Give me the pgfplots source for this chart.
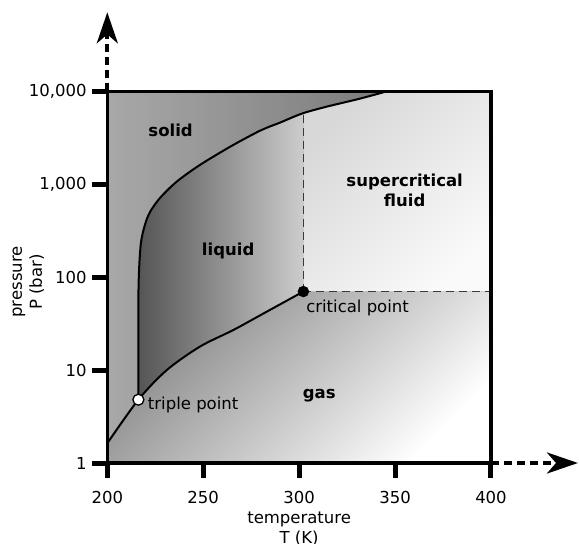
\documentclass[border=0pt]{standalone}
\usepackage{pgfplots}
\pgfplotsset{compat=1.18}
\usepackage{fontspec}
\setmainfont{DejaVu Sans}
\usetikzlibrary{arrows.meta}

\definecolor{solidL}{HTML}{A8A8A8}
\definecolor{solidR}{HTML}{6A6A6A}
\definecolor{liqL}{HTML}{555555}
\definecolor{liqR}{HTML}{CCCCCC}
\definecolor{scfT}{HTML}{D8D8D8}
\definecolor{scfB}{HTML}{FAFAFA}
\definecolor{gasT}{HTML}{858585}
\definecolor{gasB}{HTML}{FFFFFF}
\definecolor{dashc}{HTML}{3A3A3A}

\begin{document}
\fontsize{16.5}{20}\selectfont
\begin{tikzpicture}
\begin{axis}[name=ax, scale only axis, width=383.7pt, height=371.7pt,
  ymode=log, xmin=200, xmax=400, ymin=1, ymax=10000,
  xtick={200,250,300,350,400}, ytick={1,10,100,1000,10000},
  yticklabels={1,10,100,{1,000},{10,000}},
  xminorticks=false, yminorticks=false,
  tick align=outside, major tick length=15pt, tick pos=left,
  tick style={black, line width=5pt},
  axis line style={line width=3.5pt},
  axis on top,
  /pgf/number format/assume math mode=true,
  /pgf/number format/1000 sep={},
  xticklabel style={yshift=-8pt},
  xlabel={temperature\\T (K)},
  xlabel style={align=center, at={(axis description cs:0.5,0)}, anchor=north, yshift=-43pt},
  ylabel={pressure\\P (bar)},
  ylabel style={align=center, at={(axis description cs:-0.150,0.487)}, anchor=south},
]
% solid (background)
\addplot[draw=none, left color=solidL, right color=solidR]
  coordinates {(200,1) (400,1) (400,10000) (200,10000)} -- cycle;
% liquid
\addplot[draw=none, left color=liqL, right color=liqR]
  coordinates {(216.2,4.8) (216.2,16) (216.3,82) (217.4,222) (219.6,365) (222.3,504)
  (227.5,713) (236.2,1067) (248.3,1614) (265,2600) (280,3800) (290,4600) (297,5300)
  (302.2,5820) (302.2,70) (283.1,42.5) (265.7,27) (248.3,17.9) (231,10)} -- cycle;
% supercritical fluid
\addplot[draw=none, top color=scfT, bottom color=scfB, shading angle=45]
  coordinates {(302.2,70) (302.2,5820) (303,5900) (314.4,6840) (331.7,8340)
  (345.8,10000) (400,10000) (400,70)} -- cycle;
% gas
\addplot[draw=none, top color=gasT, bottom color=gasB, shading angle=45]
  coordinates {(200,1) (200,1.63) (216.2,4.8) (231,10) (248.3,17.9) (265.7,27)
  (283.1,42.5) (302.2,70) (400,70) (400,1)} -- cycle;
% dashed boundaries of the supercritical region
\addplot[dashc, line width=1.3pt, dash pattern=on 8pt off 5pt]
  coordinates {(302.2,70) (302.2,5820)};
\addplot[dashc, line width=1.3pt, dash pattern=on 8pt off 5pt]
  coordinates {(302.2,70) (400,70)};
% melting curve
\addplot[black, line width=2pt, smooth]
  coordinates {(216.2,4.8) (216.2,16) (216.3,82) (217.4,222) (219.6,365) (222.3,504)
  (227.5,713) (236.2,1067) (248.3,1614) (265,2600) (280,3800) (290,4600) (297,5300)
  (303,5900) (314.4,6840) (331.7,8340) (345.8,10000)};
% sublimation + vaporization curve
\addplot[black, line width=2pt, smooth]
  coordinates {(200,1.63) (216.2,4.8) (231,10) (248.3,17.9) (265.7,27)
  (283.1,42.5) (302.2,70)};
% critical point and triple point
\addplot[only marks, mark=*, mark size=5.5pt, mark options={fill=black, draw=black}]
  coordinates {(302.2,70)};
\addplot[only marks, mark=*, mark size=5.5pt, mark options={fill=white, draw=black, line width=1.3pt}]
  coordinates {(216.2,4.8)};
% region labels
\node[font=\bfseries] at (axis cs:233,3776) {solid};
\node[font=\bfseries] at (axis cs:263,193) {liquid};
\node[font=\bfseries, align=center] at (axis cs:355,866) {supercritical\\fluid};
\node[font=\bfseries] at (axis cs:310.5,5.26) {gas};
\node[anchor=west, inner sep=0pt] at (axis cs:303.6,46.6) {critical point};
\node[anchor=west, inner sep=0pt] at (axis cs:221.1,4.21) {triple point};
\end{axis}
\draw[line width=4pt, dash pattern=on 8pt off 5pt, -{Stealth[length=31pt, width=21pt, inset=9pt]}]
  (ax.north west) -- ++(0,79pt);
\draw[line width=4pt, dash pattern=on 8pt off 5pt, -{Stealth[length=31pt, width=21pt, inset=9pt]}]
  (ax.south east) -- ++(87pt,0);
\pgfresetboundingbox
\path (ax.south west) ++(-107.3pt,-81pt) rectangle ++(579pt,544pt);
\end{tikzpicture}
\end{document}
